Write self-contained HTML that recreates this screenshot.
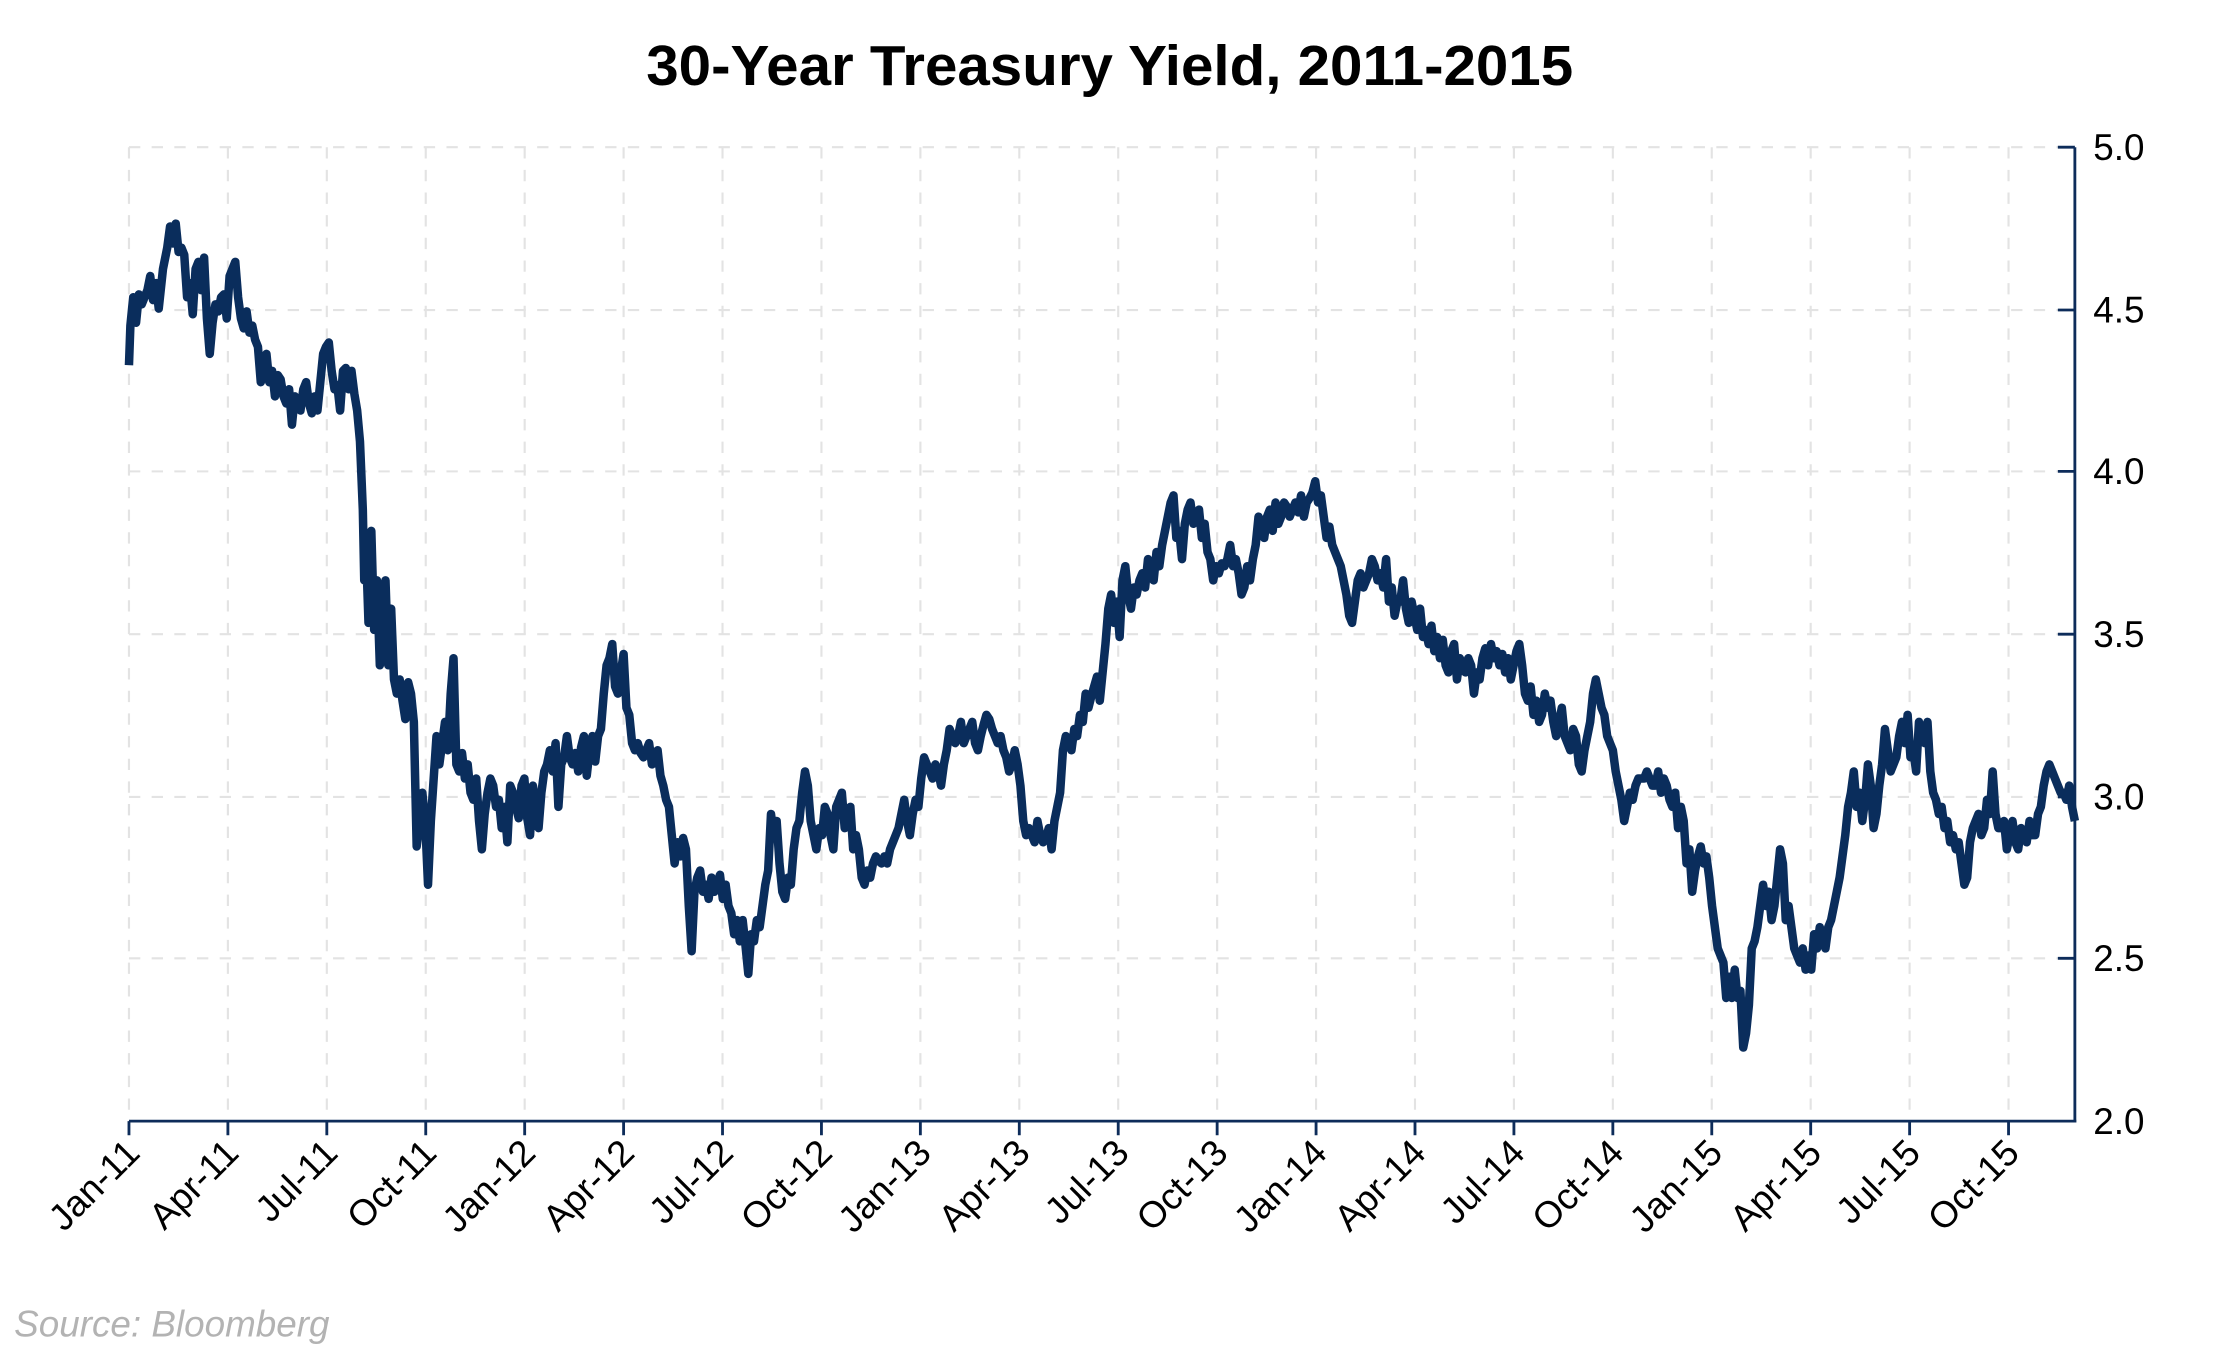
<!DOCTYPE html>
<html><head><meta charset="utf-8"><style>html,body{margin:0;padding:0;background:#fff}svg{display:block}</style></head>
<body>
<svg width="2220" height="1350" viewBox="0 0 1566.4 953.7" preserveAspectRatio="none" xmlns="http://www.w3.org/2000/svg">
<rect width="1570" height="960" fill="#fff"/>
<text x="783" y="60" text-anchor="middle" font-family="Liberation Sans Narrow, Liberation Sans, sans-serif" font-weight="bold" font-size="40" textLength="654" lengthAdjust="spacingAndGlyphs" fill="#000">30-Year Treasury Yield, 2011-2015</text>
<g stroke="#e3e3e3" stroke-width="1.5" stroke-dasharray="8,8">
<line x1="91" y1="104" x2="1464" y2="104"/><line x1="91" y1="219" x2="1464" y2="219"/><line x1="91" y1="333" x2="1464" y2="333"/><line x1="91" y1="448" x2="1464" y2="448"/><line x1="91" y1="563" x2="1464" y2="563"/><line x1="91" y1="677" x2="1464" y2="677"/>
<line x1="91" y1="104" x2="91" y2="792"/><line x1="160.8" y1="104" x2="160.8" y2="792"/><line x1="230.6" y1="104" x2="230.6" y2="792"/><line x1="300.4" y1="104" x2="300.4" y2="792"/><line x1="370.2" y1="104" x2="370.2" y2="792"/><line x1="440" y1="104" x2="440" y2="792"/><line x1="509.8" y1="104" x2="509.8" y2="792"/><line x1="579.6" y1="104" x2="579.6" y2="792"/><line x1="649.4" y1="104" x2="649.4" y2="792"/><line x1="719.2" y1="104" x2="719.2" y2="792"/><line x1="789" y1="104" x2="789" y2="792"/><line x1="858.8" y1="104" x2="858.8" y2="792"/><line x1="928.6" y1="104" x2="928.6" y2="792"/><line x1="998.4" y1="104" x2="998.4" y2="792"/><line x1="1068.2" y1="104" x2="1068.2" y2="792"/><line x1="1138" y1="104" x2="1138" y2="792"/><line x1="1207.8" y1="104" x2="1207.8" y2="792"/><line x1="1277.6" y1="104" x2="1277.6" y2="792"/><line x1="1347.4" y1="104" x2="1347.4" y2="792"/><line x1="1417.2" y1="104" x2="1417.2" y2="792"/>
</g>
<g stroke="#0d2c5a" stroke-width="2" fill="none">
<line x1="91" y1="792" x2="1465" y2="792"/><line x1="1464" y1="104" x2="1464" y2="793"/>
<path d="M91,792v10M160.8,792v10M230.6,792v10M300.4,792v10M370.2,792v10M440,792v10M509.8,792v10M579.6,792v10M649.4,792v10M719.2,792v10M789,792v10M858.8,792v10M928.6,792v10M998.4,792v10M1068.2,792v10M1138,792v10M1207.8,792v10M1277.6,792v10M1347.4,792v10M1417.2,792v10"/>
<path d="M1452,104h12M1452,219h12M1452,333h12M1452,448h12M1452,563h12M1452,677h12"/>
</g>
<g font-family="Liberation Sans, sans-serif" font-size="26" fill="#000">
<text x="1477" y="113">5.0</text><text x="1477" y="228">4.5</text><text x="1477" y="342">4.0</text><text x="1477" y="457">3.5</text><text x="1477" y="572">3.0</text><text x="1477" y="686">2.5</text><text x="1477" y="801">2.0</text>
</g>
<g font-family="Liberation Sans, sans-serif" font-size="26" fill="#000" text-anchor="end">
<text transform="translate(100,816) rotate(-45)">Jan-11</text>
<text transform="translate(169.8,816) rotate(-45)">Apr-11</text>
<text transform="translate(239.6,816) rotate(-45)">Jul-11</text>
<text transform="translate(309.4,816) rotate(-45)">Oct-11</text>
<text transform="translate(379.2,816) rotate(-45)">Jan-12</text>
<text transform="translate(449,816) rotate(-45)">Apr-12</text>
<text transform="translate(518.8,816) rotate(-45)">Jul-12</text>
<text transform="translate(588.6,816) rotate(-45)">Oct-12</text>
<text transform="translate(658.4,816) rotate(-45)">Jan-13</text>
<text transform="translate(728.2,816) rotate(-45)">Apr-13</text>
<text transform="translate(798,816) rotate(-45)">Jul-13</text>
<text transform="translate(867.8,816) rotate(-45)">Oct-13</text>
<text transform="translate(937.6,816) rotate(-45)">Jan-14</text>
<text transform="translate(1007.4,816) rotate(-45)">Apr-14</text>
<text transform="translate(1077.2,816) rotate(-45)">Jul-14</text>
<text transform="translate(1147,816) rotate(-45)">Oct-14</text>
<text transform="translate(1216.8,816) rotate(-45)">Jan-15</text>
<text transform="translate(1286.6,816) rotate(-45)">Apr-15</text>
<text transform="translate(1356.4,816) rotate(-45)">Jul-15</text>
<text transform="translate(1426.2,816) rotate(-45)">Oct-15</text>
</g>
<text x="10" y="944" font-family="Liberation Sans, sans-serif" font-style="italic" font-size="26" fill="#b3b3b3">Source: Bloomberg</text>
<polyline fill="none" stroke="#0a2d5c" stroke-width="6" stroke-linejoin="round" points="91,258 92,230 94,210 96,228 98,208 100,215 104,205 106,195 108,212 110,200 112,218 115,190 118,175 120,160 122,172 124,158 126,178 128,175 130,180 132,210 134,200 136,222 138,190 140,185 142,205 144,182 146,225 148,250 150,228 152,215 154,220 156,210 158,208 160,225 162,195 164,190 166,185 168,210 170,225 172,232 174,220 176,235 178,230 180,240 182,245 184,270 186,255 188,250 190,270 192,262 194,280 196,265 198,268 200,280 202,285 204,275 206,300 208,280 210,285 212,290 214,275 216,270 218,285 220,292 222,280 224,290 226,270 228,250 230,245 232,242 234,262 236,275 238,272 240,290 242,262 244,260 246,275 248,262 250,278 252,290 254,312 256,360 257,410 258,380 260,440 262,375 264,445 266,410 268,470 270,440 272,410 274,470 276,430 278,480 280,490 282,480 284,495 286,508 288,482 290,490 292,510 294,598 296,580 298,560 300,580 302,625 304,580 306,550 308,520 310,540 312,525 314,510 316,530 318,490 320,465 322,540 324,545 326,532 328,550 330,540 332,560 334,565 336,550 338,580 340,600 342,575 344,560 346,550 348,555 350,570 352,565 354,585 356,570 358,595 360,555 362,560 364,570 366,578 368,555 370,550 372,578 374,590 376,555 378,570 380,585 382,560 384,545 386,540 388,530 390,545 392,525 394,570 396,540 398,535 400,520 402,535 404,540 406,532 408,545 410,528 412,520 414,548 416,530 418,520 420,538 422,520 424,515 426,490 428,470 430,465 432,455 434,485 436,490 438,475 440,462 442,500 444,505 446,525 448,530 450,525 452,532 454,535 456,530 458,525 460,540 462,535 464,530 466,548 468,555 470,565 472,570 474,590 476,610 478,595 480,605 482,592 484,600 486,640 488,672 490,630 492,620 494,615 496,630 498,625 500,635 502,620 504,630 506,625 508,618 510,635 512,625 514,640 516,645 518,660 520,650 522,665 524,650 526,668 528,688 530,660 532,665 534,650 536,655 538,640 540,625 542,615 544,575 546,590 548,580 550,610 552,630 554,635 556,620 558,625 560,600 562,585 564,580 566,560 568,545 570,555 572,580 574,590 576,600 578,585 580,590 582,570 584,575 586,590 588,600 590,570 592,565 594,560 596,585 598,575 600,570 602,600 604,590 606,600 608,620 610,625 612,615 614,620 616,610 618,605 620,608 622,610 624,605 626,610 628,600 630,595 632,590 634,585 636,575 638,565 640,580 642,590 644,575 646,565 648,570 650,550 652,535 654,540 656,545 658,550 660,540 662,545 664,555 666,540 668,530 670,515 672,520 674,525 676,520 678,510 680,525 682,520 684,515 686,510 688,525 690,530 692,520 694,512 696,505 698,508 700,515 702,520 704,525 706,520 708,530 710,535 712,545 714,540 716,530 718,540 720,555 722,580 724,590 726,585 728,590 730,595 732,580 734,590 736,595 738,592 740,585 742,600 744,580 746,570 748,560 750,530 752,520 754,525 756,530 758,515 760,520 762,505 764,510 766,490 768,500 770,492 772,485 774,478 776,495 778,475 780,455 782,430 784,420 786,440 788,425 790,450 792,410 794,400 796,420 798,430 800,415 802,420 804,410 806,405 808,415 810,395 812,400 814,410 816,390 818,400 820,385 822,375 824,365 826,355 828,350 830,380 832,375 834,395 836,370 838,360 840,355 842,370 844,365 846,360 848,380 850,370 852,390 854,395 856,410 858,400 860,405 862,398 864,400 866,395 868,385 870,400 872,395 874,405 876,420 878,415 880,400 882,410 884,395 886,385 888,365 890,370 892,380 894,365 896,360 898,375 900,355 902,370 904,365 906,355 908,358 910,365 912,360 914,355 916,362 918,350 920,365 922,355 924,352 926,348 928,340 930,355 932,350 934,365 936,380 938,372 940,385 942,390 944,395 946,400 948,410 950,420 952,435 954,440 956,425 958,410 960,405 962,415 964,410 966,405 968,395 970,400 972,410 974,405 976,415 978,395 980,425 982,415 984,435 986,425 988,425 990,410 992,430 994,440 996,425 998,435 1000,445 1002,430 1004,450 1006,445 1008,455 1010,442 1012,460 1014,450 1016,465 1018,452 1020,470 1022,475 1024,460 1026,455 1028,480 1030,465 1032,470 1034,475 1036,465 1038,470 1040,490 1042,475 1044,480 1046,465 1048,458 1050,470 1052,455 1054,465 1056,460 1058,470 1060,462 1062,475 1064,465 1066,480 1068,470 1070,460 1072,455 1074,470 1076,490 1078,495 1080,485 1082,505 1084,495 1086,510 1088,505 1090,490 1092,500 1094,495 1096,510 1098,520 1100,510 1102,500 1104,520 1106,525 1108,530 1110,515 1112,520 1114,540 1116,545 1118,530 1120,520 1122,510 1124,490 1126,480 1128,490 1130,500 1132,505 1134,520 1136,525 1138,530 1140,545 1142,555 1144,565 1146,580 1148,570 1150,560 1152,565 1154,555 1156,550 1158,550 1160,550 1162,545 1164,550 1166,555 1168,555 1170,545 1172,560 1174,550 1176,555 1178,565 1180,570 1182,560 1184,585 1186,570 1188,580 1190,610 1192,600 1194,630 1196,615 1198,605 1200,598 1202,610 1204,605 1206,620 1208,640 1210,655 1212,670 1214,675 1216,680 1218,705 1220,690 1222,705 1224,685 1226,705 1228,700 1230,740 1232,730 1234,710 1236,670 1238,665 1240,655 1242,640 1244,625 1246,640 1248,630 1250,650 1252,640 1254,620 1256,600 1258,610 1260,650 1262,640 1264,655 1266,670 1268,675 1270,680 1272,670 1274,685 1276,675 1278,685 1280,660 1282,670 1284,655 1286,665 1288,670 1290,655 1292,650 1294,640 1296,630 1298,620 1300,605 1302,590 1304,570 1306,560 1308,545 1310,570 1312,560 1314,580 1316,565 1318,540 1320,555 1322,585 1324,575 1326,555 1328,540 1330,515 1332,530 1334,545 1336,540 1338,535 1340,520 1342,510 1344,525 1346,505 1348,535 1350,530 1352,545 1354,510 1356,520 1358,525 1360,510 1362,545 1364,560 1366,565 1368,575 1370,570 1372,585 1374,580 1376,595 1378,590 1380,600 1382,595 1384,610 1386,625 1388,620 1390,595 1392,585 1394,580 1396,575 1398,590 1400,585 1402,565 1404,575 1406,545 1408,575 1410,585 1412,585 1414,580 1416,600 1418,590 1420,580 1422,595 1424,600 1426,585 1428,590 1430,595 1432,580 1434,590 1436,590 1438,575 1440,570 1442,555 1444,545 1446,540 1448,545 1450,550 1452,555 1454,560 1456,560 1458,565 1460,555 1462,570 1464,580"/>
</svg>
</body></html>
